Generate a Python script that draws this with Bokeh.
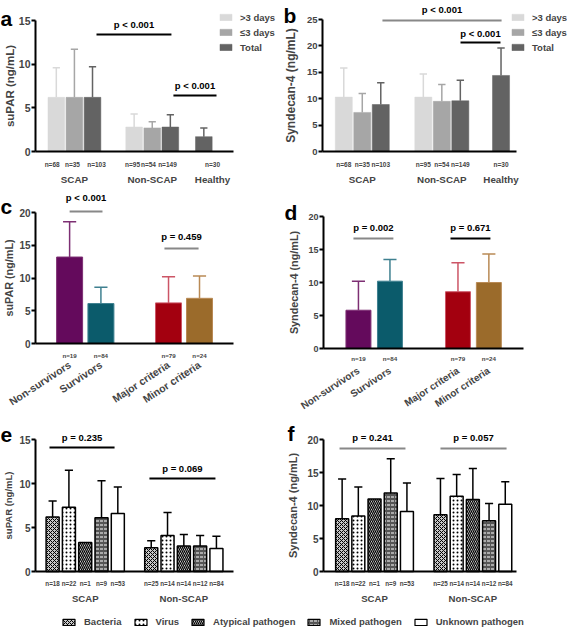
from bokeh.plotting import figure
from bokeh.models import (Range1d, FixedTicker, LinearAxis, CustomJSTickFormatter,
                          Legend, LegendItem, ColumnDataSource)
from bokeh.layouts import column, row
from bokeh.embed import file_html
from bokeh.resources import INLINE
from bokeh.core.properties import value

FONT = "Liberation Sans"
NaN = float("nan")

# ---------------- data ----------------
dur_groups = ["SCAP", "Non-SCAP", "Healthy"]
dur_series = [">3 days", "\u22643 days", "Total"]
dur_bar_group = [0, 0, 0, 1, 1, 1, 2]
dur_bar_series = [0, 1, 2, 0, 1, 2, 2]
dur_n = ["n=68", "n=35", "n=103", "n=95", "n=54", "n=149", "n=30"]
a_mean = [6.2, 6.2, 6.2, 2.8, 2.7, 2.8, 1.7]
a_upper = [9.6, 11.7, 9.7, 4.3, 3.4, 4.2, 2.7]
b_mean = [10.3, 7.4, 8.9, 10.3, 9.5, 9.6, 14.4]
b_upper = [15.8, 11.0, 13.0, 14.7, 12.7, 13.5, 19.6]

out_cats = ["Non-survivors", "Survivors", "Major criteria", "Minor criteria"]
out_n = ["n=19", "n=84", "n=79", "n=24"]
c_mean = [13.2, 6.1, 6.2, 6.9]
c_upper = [18.6, 8.6, 10.2, 10.3]
d_mean = [5.8, 10.2, 8.6, 10.0]
d_upper = [10.2, 13.5, 13.0, 14.3]

path_groups = ["SCAP", "Non-SCAP"]
pathogens = ["Bacteria", "Virus", "Atypical pathogen", "Mixed pathogen", "Unknown pathogen"]
path_n = [["n=18", "n=22", "n=1", "n=9", "n=53"], ["n=25", "n=14", "n=14", "n=12", "n=84"]]
e_mean = [[6.2, 7.3, 3.3, 6.1, 6.6], [2.7, 4.1, 2.9, 2.9, 2.6]]
e_upper = [[8.0, 11.5, NaN, 10.3, 9.6], [3.5, 6.7, 4.2, 4.1, 4.0]]
f_mean = [[8.0, 8.4, 11.0, 11.9, 9.1], [8.6, 11.4, 10.9, 7.7, 10.2]]
f_upper = [[14.0, 12.8, NaN, 17.1, 13.4], [14.1, 14.7, 15.6, 10.3, 13.6]]

a_pvals = ["p < 0.001", "p < 0.001"]
b_pvals = ["p < 0.001", "p < 0.001"]
c_pvals = ["p < 0.001", "p = 0.459"]
d_pvals = ["p = 0.002", "p = 0.671"]
e_pvals = ["p = 0.235", "p = 0.069"]
f_pvals = ["p = 0.241", "p = 0.057"]

# ---------------- styles ----------------
dur_colors = ["#d9d9d9", "#a6a6a6", "#636363"]
out_fill = ["#640a5c", "#0b5b6b", "#a3000f", "#9b6b2b"]
out_err = ["#7d2f73", "#3f8090", "#cc5566", "#b98a55"]
path_style = [
    dict(fill_color="#c8c8c8", hatch_pattern="diagonal_cross", hatch_scale=4, hatch_weight=1, hatch_color="black"),
    dict(fill_color="white", hatch_pattern="dot", hatch_scale=4, hatch_weight=1, hatch_color="black"),
    dict(fill_color="white", hatch_pattern="left_diagonal_line", hatch_scale=4, hatch_weight=1.3, hatch_color="black"),
    dict(fill_color="#555555", hatch_pattern="horizontal_dash", hatch_scale=4, hatch_weight=1, hatch_color="white"),
    dict(fill_color="white"),
]
GRAY = "#888888"


def make_panel(fig_box, origin, pitch, ypx, ymax, ylabel, ylab_px, tick_px, lab_std, axlab_std):
    fx, fy, fw, fh = fig_box
    ox, oy = origin
    p = figure(width=fw, height=fh,
               x_range=Range1d((fx - ox) / pitch, (fx + fw - ox) / pitch),
               y_range=Range1d((oy - (fy + fh)) / ypx, (oy - fy) / ypx),
               x_axis_type=None, y_axis_type=None, toolbar_location=None,
               output_backend="svg", min_border=0)
    p.outline_line_color = None
    p.background_fill_color = "white"
    p.border_fill_color = "white"
    ya = LinearAxis(ticker=FixedTicker(ticks=list(range(0, ymax + 1, 5))), bounds=(0, ymax),
                    axis_label=ylabel, fixed_location=0)
    ya.axis_line_width = 2
    ya.major_tick_line_width = 2
    ya.major_tick_out = 4
    ya.major_tick_in = 0
    ya.minor_tick_out = 0
    ya.minor_tick_in = 0
    ya.major_label_standoff = int(lab_std)
    ya.axis_label_standoff = int(axlab_std)
    ya.major_label_text_font = FONT
    ya.major_label_text_font_style = "bold"
    ya.major_label_text_font_size = f"{tick_px}px"
    ya.axis_label_text_font = FONT
    ya.axis_label_text_font_style = "bold"
    ya.axis_label_text_font_size = f"{ylab_px}px"
    p.add_layout(ya, "left")
    p._pitch, p._ypx, p._ox, p._oy, p._box = pitch, ypx, ox, oy, fig_box
    return p


def add_x_axes(p, centers, nlabels, n_px, n_standoff, gcenters, glabels, g_px, g_standoff,
               axis_end, orient=None):
    xa = LinearAxis(ticker=FixedTicker(ticks=list(centers)),
                    formatter=CustomJSTickFormatter(args=dict(labels=list(nlabels)),
                                                    code="return labels[index];"),
                    bounds=(0, axis_end), fixed_location=0)
    xa.axis_line_width = 2
    xa.major_tick_line_color = None
    xa.major_tick_out = 0
    xa.major_tick_in = 0
    xa.minor_tick_out = 0
    xa.minor_tick_in = 0
    xa.major_label_standoff = int(n_standoff)
    xa.major_label_text_font = FONT
    xa.major_label_text_font_style = "bold"
    xa.major_label_text_font_size = f"{n_px}px"
    p.add_layout(xa, "below")
    ga = LinearAxis(ticker=FixedTicker(ticks=list(gcenters)),
                    formatter=CustomJSTickFormatter(args=dict(labels=list(glabels)),
                                                    code="return labels[index];"),
                    fixed_location=0)
    ga.axis_line_color = None
    ga.major_tick_line_color = None
    ga.major_tick_out = 0
    ga.major_tick_in = 0
    ga.minor_tick_out = 0
    ga.minor_tick_in = 0
    ga.major_label_standoff = int(g_standoff)
    ga.major_label_text_font = FONT
    ga.major_label_text_font_style = "bold"
    ga.major_label_text_font_size = f"{g_px}px"
    if orient is not None:
        ga.major_label_orientation = orient
    p.add_layout(ga, "below")


def add_errors(p, xs, mean, upper, color, cap_half, width=1.5):
    src = ColumnDataSource(dict(x=list(xs), m=list(mean), u=list(upper),
                                xl=[x - cap_half for x in xs], xr=[x + cap_half for x in xs]))
    p.segment(x0="x", y0="m", x1="x", y1="u", source=src, line_color=color, line_width=width)
    p.segment(x0="xl", y0="u", x1="xr", y1="u", source=src, line_color=color, line_width=width)


def add_brackets(p, spans, labels, colors, offsets_px, font_px=9.5):
    for (x0, x1, y), lab, col, off in zip(spans, labels, colors, offsets_px):
        p.segment(x0=[x0], y0=[y], x1=[x1], y1=[y], line_color=col, line_width=2)
        p.text(x=[(x0 + x1) / 2], y=[y + off / p._ypx], text=[lab], text_align="center",
               text_baseline="middle", text_font=value(FONT), text_font_style="bold",
               text_font_size=f"{font_px}px", text_color="black")


def add_letter(p, letter, page_x, page_base):
    p.text(x=[(page_x - p._ox) / p._pitch], y=[(p._oy - page_base) / p._ypx], text=[letter],
           text_align="left", text_baseline="alphabetic", text_font=value(FONT),
           text_font_style="bold", text_font_size="21px", text_color="black")


def legend_loc(p, page_x, page_bottom):
    fx, fy, fw, fh = p._box
    return (page_x - fx, fy + fh - page_bottom)


# ---------------- panels a & b ----------------
def duration_panel(mean, upper, fig_box, origin, pitch, ypx, ymax, ylabel, ylab_px, tick_px,
                   lab_std, axlab_std, gstarts, glabel_x, n_x, axis_end, spans, pvals, pcolors,
                   poffs, leg_page_x, letter, letter_pos):
    p = make_panel(fig_box, origin, pitch, ypx, ymax, ylabel, ylab_px, tick_px, lab_std, axlab_std)
    xs = []
    counts = {}
    for g in dur_bar_group:
        k = counts.get(g, 0)
        xs.append(gstarts[g] + k)
        counts[g] = k + 1
    items = []
    for s, name in enumerate(dur_series):
        idx = [i for i in range(len(mean)) if dur_bar_series[i] == s]
        sx = [xs[i] for i in idx]
        add_errors(p, sx, [mean[i] for i in idx], [upper[i] for i in idx], dur_colors[s], 0.2)
        r = p.vbar(x=sx, top=[mean[i] for i in idx], width=0.92, fill_color=dur_colors[s],
                   line_color=dur_colors[s], line_width=0.5)
        items.append(LegendItem(label=name, renderers=[r]))
    add_x_axes(p, n_x if n_x is not None else xs, dur_n, 6.5, 9, glabel_x, dur_groups, 9.8, 22,
               axis_end)
    add_brackets(p, spans, pvals, pcolors, poffs)
    leg = Legend(items=items, location=legend_loc(p, leg_page_x, 53), orientation="vertical",
                 glyph_width=15, glyph_height=8, label_standoff=7, spacing=3,
                 padding=0, margin=0, label_height=12, border_line_color=None,
                 background_fill_alpha=0, label_text_font=FONT,
                 label_text_font_style="bold", label_text_font_size="9.5px")
    p.add_layout(leg)
    add_letter(p, letter, *letter_pos)
    return p


pa = duration_panel(a_mean, a_upper, (0, 0, 283, 188), (35, 151), 18.1, 131 / 15, 15,
                    "suPAR (ng/mL)", 11.5, 10.5, 1, 0,
                    [1.15, 5.45, 9.3], [2.15, 6.45, 9.78],
                    [0.92, 2.04, 3.37, 5.36, 6.24, 7.29, 9.78], 10.94,
                    [(3.37, 7.51, 13.4), (7.62, 10.0, 6.4)], a_pvals, ["black", "black"], [10, 10],
                    218, "a", (0, 18))
pb = duration_panel(b_mean, b_upper, (283, 0, 284, 188), (322, 151), 18.5, 132 / 25, 25,
                    "Syndecan-4 (ng/mL)", 12, 9.5, 1, 6,
                    [1.15, 5.45, 9.65], [2.15, 6.45, 9.65], None, 10.49,
                    [(3.24, 9.68, 24.8), (7.46, 9.62, 20.64)], b_pvals, [GRAY, "black"], [11, 9],
                    510, "b", (283, 15))


# ---------------- panels c & d ----------------
def outcome_panel(mean, upper, fig_box, origin, pitch, ypx, ylabel, ylab_px, tick_px, lab_std,
                  axlab_std, xs, bw, axis_end, n_std, rot_px, rot_std, spans, pvals, pcolors,
                  poffs, letter, letter_pos):
    p = make_panel(fig_box, origin, pitch, ypx, 20, ylabel, ylab_px, tick_px, lab_std, axlab_std)
    for i in range(len(mean)):
        add_errors(p, [xs[i]], [mean[i]], [upper[i]], out_err[i], 0.21)
    p.vbar(x=xs, top=mean, width=bw, fill_color=out_fill, line_color=out_err, line_width=1)
    add_x_axes(p, xs, out_n, 6.2, n_std, xs, out_cats, rot_px, rot_std, axis_end, orient=0.58)
    add_brackets(p, spans, pvals, pcolors, poffs)
    add_letter(p, letter, *letter_pos)
    return p


pc = outcome_panel(c_mean, c_upper, (0, 188, 283, 222), (35, 343), 31.3, 6.55,
                   "suPAR (ng/mL)", 10.8, 10, 1, 1,
                   [1.09, 2.09, 4.25, 5.24], 0.83, 6.33, 8, 10.5, 20,
                   [(1.09, 2.14, 20.15), (4.12, 5.21, 14.5)], c_pvals, [GRAY, GRAY], [14, 12],
                   "c", (0, 206))
pd_ = outcome_panel(d_mean, d_upper, (283, 188, 284, 222), (323, 348), 31.2, 6.6,
                    "Syndecan-4 (ng/mL)", 10.8, 9, 1, 5,
                    [1.12, 2.13, 4.31, 5.3], 0.8, 6.41, 6, 10, 21,
                    [(0.96, 2.24, 16.67), (4.07, 5.35, 16.67)], d_pvals, [GRAY, "black"], [11, 11],
                    "d", (284, 212))


# ---------------- panels e & f ----------------
def pathogen_panel(mean, upper, fig_box, origin, pitch, ypx, ymax, ylabel, ylab_px, tick_px,
                   lab_std, axlab_std, gstarts, axis_end, spans, pvals, pcolors, poffs,
                   letter, letter_pos):
    p = make_panel(fig_box, origin, pitch, ypx, ymax, ylabel, ylab_px, tick_px, lab_std, axlab_std)
    xs_all, n_all = [], []
    for g in range(len(path_groups)):
        xs = [gstarts[g] + k for k in range(len(pathogens))]
        xs_all += xs
        n_all += path_n[g]
        add_errors(p, xs, mean[g], upper[g], "black", 0.25)
    for k in range(len(pathogens)):
        xk = [gstarts[g] + k for g in range(len(path_groups))]
        p.vbar(x=xk, top=[mean[g][k] for g in range(len(path_groups))], width=0.8,
               line_color="black", line_width=1.5, **path_style[k])
    gcent = [gstarts[g] + (len(pathogens) - 1) / 2 for g in range(len(path_groups))]
    add_x_axes(p, xs_all, n_all, 6.3, 8, gcent, path_groups, 9.6, 21, axis_end)
    add_brackets(p, spans, pvals, pcolors, poffs)
    add_letter(p, letter, *letter_pos)
    return p


pe = pathogen_panel(e_mean, e_upper, (0, 410, 283, 194), (35, 571), 16.3, 8.8, 15,
                    "suPAR (ng/mL)", 9.5, 10, 1, 2,
                    [1.05, 7.1], 12.15,
                    [(0.86, 4.85, 14.09), (6.99, 11.04, 10.57)], e_pvals, ["black", "black"],
                    [10, 10], "e", (0, 434))
pf = pathogen_panel(f_mean, f_upper, (283, 410, 284, 194), (323, 571), 16.2, 6.6, 20,
                    "Syndecan-4 (ng/mL)", 11, 10, 1, 5,
                    [1.15, 7.22], 11.9,
                    [(0.99, 5.06, 18.64), (7.22, 11.3, 18.64)], f_pvals, [GRAY, GRAY],
                    [11, 11], "f", (287, 433))

# ---------------- shared legend for e & f (swatch-only renderers, nothing plotted) ----------
lf = figure(width=567, height=24, x_range=Range1d(0, 1), y_range=Range1d(0, 1),
            x_axis_type=None, y_axis_type=None, toolbar_location=None, output_backend="svg",
            min_border=0)
lf.outline_line_color = None
lf.background_fill_color = "white"
lf.border_fill_color = "white"
leg_items = []
for k, name in enumerate(pathogens):
    r = lf.vbar(x=[NaN], top=[NaN], width=0.1, line_color="black", line_width=1.2,
                **path_style[k])
    leg_items.append(LegendItem(label=name, renderers=[r]))
lf.add_layout(Legend(items=leg_items, orientation="horizontal", location=(61, 1),
                     glyph_width=15, glyph_height=8, label_standoff=8, spacing=11,
                     padding=0, margin=0, label_height=11, border_line_color=None,
                     background_fill_alpha=0, label_text_font=FONT,
                     label_text_font_style="bold", label_text_font_size="9.5px"))

layout = column(row(pa, pb), row(pc, pd_), row(pe, pf), lf)
open("out.html", "w").write(file_html(layout, INLINE))
